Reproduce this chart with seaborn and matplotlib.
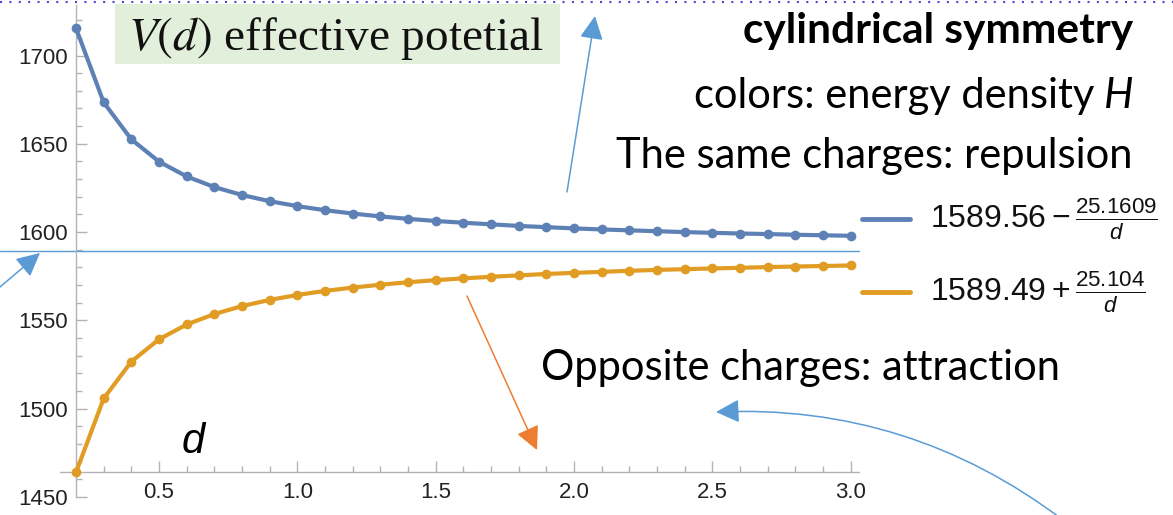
import numpy as np
import pandas as pd
import matplotlib
matplotlib.use("Agg")
import matplotlib.pyplot as plt
from matplotlib.lines import Line2D
from matplotlib.patches import Rectangle, FancyArrowPatch
from matplotlib.ticker import MultipleLocator
import seaborn as sns

# ---- data ----
d_values = [0.2, 0.3, 0.4, 0.5, 0.6, 0.7, 0.8, 0.9, 1.0, 1.1, 1.2, 1.3, 1.4, 1.5,
            1.6, 1.7, 1.8, 1.9, 2.0, 2.1, 2.2, 2.3, 2.4, 2.5, 2.6, 2.7, 2.8, 2.9, 3.0]
repulsion = [1715.4, 1673.4, 1652.5, 1639.9, 1631.5, 1625.5, 1621.0, 1617.5, 1614.7,
             1612.4, 1610.5, 1608.9, 1607.5, 1606.3, 1605.3, 1604.4, 1603.5, 1602.8,
             1602.1, 1601.5, 1601.0, 1600.5, 1600.0, 1599.6, 1599.2, 1598.9, 1598.5,
             1598.2, 1597.9]
attraction = [1464.0, 1505.8, 1526.7, 1539.3, 1547.7, 1553.6, 1558.1, 1561.6, 1564.4,
              1566.7, 1568.6, 1570.2, 1571.6, 1572.8, 1573.8, 1574.7, 1575.5, 1576.3,
              1576.9, 1577.5, 1578.1, 1578.6, 1579.0, 1579.4, 1579.8, 1580.2, 1580.5,
              1580.8, 1581.1]
series_names = ["same", "opposite"]
legend_labels = [r"$1589.56 - \frac{25.1609}{d}$", r"$1589.49 + \frac{25.104}{d}$"]
asymptote = 1589.5
x_ticks = [0.5, 1.0, 1.5, 2.0, 2.5, 3.0]
y_ticks = [1450, 1500, 1550, 1600, 1650, 1700]

df = pd.DataFrame({
    "d": d_values * 2,
    "V": repulsion + attraction,
    "series": [series_names[0]] * len(d_values) + [series_names[1]] * len(d_values),
})

BLUE = "#5E81B5"
ORANGE = "#E19C24"
ARROW_BLUE = "#5B9BD5"
ARROW_ORANGE = "#ED7D31"

sns.set_style("white")
plt.rcParams["font.family"] = ["Liberation Sans", "DejaVu Sans"]
plt.rcParams["mathtext.fontset"] = "custom"
plt.rcParams["mathtext.rm"] = "Liberation Sans"
plt.rcParams["mathtext.it"] = "Liberation Sans:italic"

W, H = 1173, 515
fig = plt.figure(figsize=(W / 100, H / 100), dpi=100)
ax = fig.add_axes([60 / W, (H - 497) / H, (859 - 60) / W, (497 - 5) / H])
ax.set_facecolor("none")

sns.lineplot(data=df, x="d", y="V", hue="series", palette=[BLUE, ORANGE],
             marker="o", markersize=7, markeredgewidth=0, linewidth=3,
             legend=False, ax=ax, clip_on=False, zorder=3)

ax.set_xlim(0.142, 3.03)
ax.set_ylim(1450, 1728.6)
ax.set_xlabel("")
ax.set_ylabel("")
for s in ["top", "right"]:
    ax.spines[s].set_visible(False)
ax.spines["left"].set_position(("data", 0.2))
ax.spines["bottom"].set_position(("data", 1464))
for s in ["left", "bottom"]:
    ax.spines[s].set_color("#b3b3b3")
    ax.spines[s].set_linewidth(1)
ax.set_xticks(x_ticks)
ax.set_xticklabels([f"{t:.1f}" for t in x_ticks])
ax.set_yticks(y_ticks)
ax.xaxis.set_minor_locator(MultipleLocator(0.1))
ax.yaxis.set_minor_locator(MultipleLocator(10))
ax.tick_params(which="both", direction="in", color="#b3b3b3", labelcolor="#222222",
               labelsize=16, left=True, bottom=True)
ax.tick_params(which="major", length=8, width=1)
ax.tick_params(which="minor", length=4, width=1)
ax.tick_params(axis="x", which="major", pad=7)
ax.tick_params(axis="y", which="major", pad=6)

# asymptote line across from the left edge of the picture
ax.axhline(asymptote, xmin=-60 / 799, xmax=1.0, color=ARROW_BLUE, lw=1, clip_on=False, zorder=2)


def fx(x):
    return x / W


def fy(y):
    return 1 - y / H


# legend (manual, in figure pixels)
for yy, col, lab in [(219, BLUE, legend_labels[0]), (292, ORANGE, legend_labels[1])]:
    fig.add_artist(Line2D([fx(862), fx(910)], [fy(yy), fy(yy)], color=col, lw=3.5))
    fig.text(fx(930), fy(yy), lab, fontsize=23, va="center", ha="left", color="#111111")

# top dotted line
fig.add_artist(Line2D([0, 1], [fy(2), fy(2)], color="#4a4ad0", lw=1.5,
                      linestyle=(0, (1, 3.5))))

# title box
fig.add_artist(Rectangle((fx(115), fy(64)), fx(560) - fx(115), fy(4) - fy(64),
                         transform=fig.transFigure, fc="#E2EFDA", ec="none", zorder=1))
fig.text(fx(128), fy(50), r"$V(d)$ effective potetial", fontsize=34,
         family="Liberation Serif", math_fontfamily="stix", va="baseline", ha="left",
         color="#111111", zorder=2)

# right-side annotations
cal = ["Lato", "DejaVu Sans"]
fig.text(fx(1133), fy(43), "cylindrical symmetry", fontsize=30.5, weight="bold",
         family=cal, ha="right", va="baseline", color="black")
th = fig.text(fx(1133), fy(108), "H", fontsize=30, style="italic",
              family=cal, ha="right", va="baseline", color="black")
fig.canvas.draw()
hb = th.get_window_extent(fig.canvas.get_renderer())
fig.text(hb.x0 / W - 9 / W, fy(108), "colors: energy density", fontsize=30,
         family=cal, ha="right", va="baseline", color="black")
fig.text(fx(1133), fy(168), "The same charges: repulsion", fontsize=30,
         family=cal, ha="right", va="baseline", color="black")
fig.text(fx(541), fy(380), "Opposite charges: attraction", fontsize=30,
         family=cal, ha="left", va="baseline", color="black")
fig.text(fx(182), fy(453), "d", fontsize=30, style="italic", ha="left", va="baseline",
         color="black")


# arrows
def arrow(x0, y0, x1, y1, col, rad=0.0):
    fig.add_artist(FancyArrowPatch(
        (fx(x0), fy(y0)), (fx(x1), fy(y1)), transform=fig.transFigure,
        arrowstyle="-|>,head_length=0.9,head_width=0.45", mutation_scale=16,
        color=col, lw=1.1, connectionstyle=f"arc3,rad={rad}", shrinkA=0, shrinkB=0))


arrow(567, 192, 595, 16, ARROW_BLUE)
arrow(0, 287, 40, 253, ARROW_BLUE)
arrow(467, 296, 537, 450, ARROW_ORANGE)
arrow(1063, 520, 716, 412, ARROW_BLUE, rad=0.18)

fig.savefig("out.png", dpi=100)
